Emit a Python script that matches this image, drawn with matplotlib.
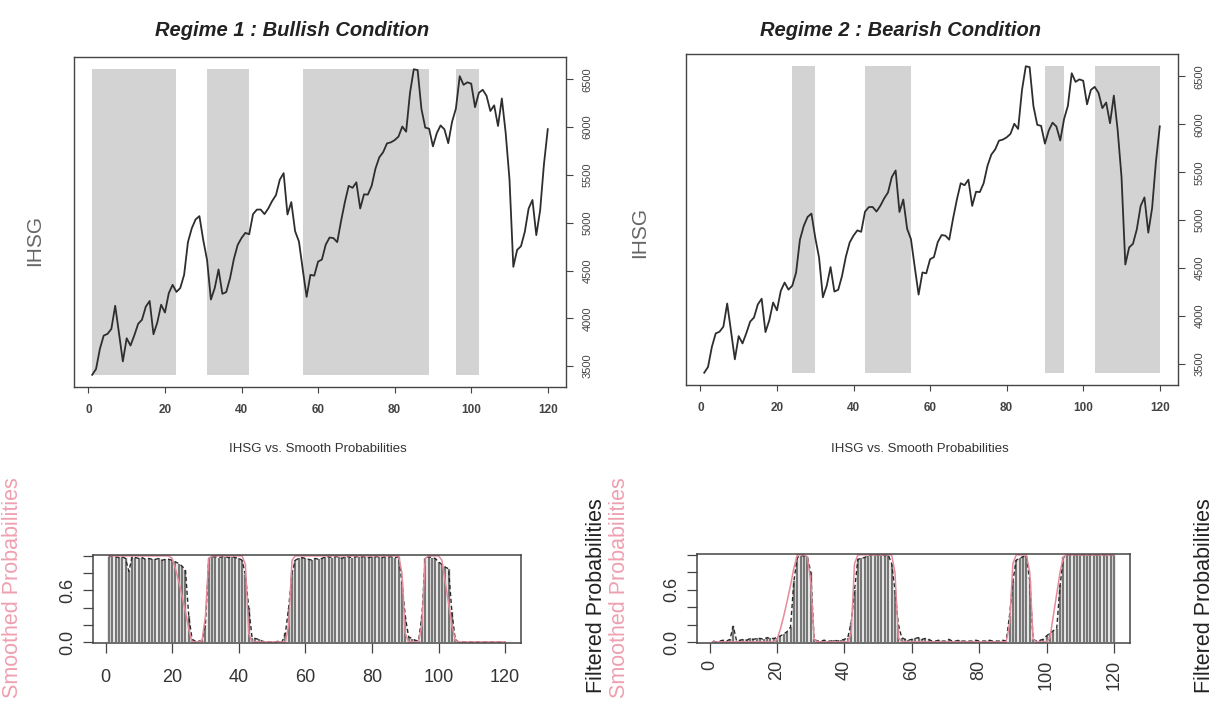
import numpy as np
import matplotlib
matplotlib.use("Agg")
import matplotlib.pyplot as plt

plt.rcParams['font.family'] = ['Liberation Sans', 'DejaVu Sans']

# ---------------- data ----------------
ihsg = [3409, 3470, 3679, 3819, 3837, 3889, 4131, 3842, 3549, 3791, 3715, 3822,
        3942, 3985, 4122, 4181, 3833, 3956, 4142, 4060, 4263, 4350, 4276, 4317,
        4454, 4796, 4941, 5034, 5069, 4819, 4610, 4196, 4316, 4511, 4256, 4274,
        4419, 4620, 4768, 4840, 4894, 4879, 5089, 5137, 5138, 5090, 5150, 5227,
        5289, 5450, 5519, 5086, 5216, 4911, 4803, 4510, 4224, 4455, 4446, 4593,
        4615, 4771, 4845, 4839, 4797, 5017, 5216, 5386, 5365, 5423, 5149, 5297,
        5294, 5387, 5568, 5685, 5738, 5830, 5841, 5864, 5901, 6006, 5952, 6356,
        6606, 6597, 6189, 5995, 5984, 5799, 5936, 6018, 5977, 5832, 6056, 6194,
        6533, 6443, 6469, 6455, 6209, 6359, 6391, 6328, 6169, 6228, 6012, 6300,
        5940, 5453, 4538, 4716, 4754, 4905, 5149, 5238, 4870, 5128, 5612, 5979]

filt_r1 = [0.99, 1.00, 0.99, 0.98, 0.99, 0.97, 0.82, 0.99, 0.98, 0.97, 0.98, 0.96,
           0.97, 0.96, 0.96, 0.97, 0.95, 0.96, 0.96, 0.95, 0.93, 0.91, 0.88, 0.83,
           0.30, 0.03, 0.01, 0.01, 0.02, 0.20, 0.97, 0.99, 0.99, 0.98, 0.99, 0.99,
           0.98, 0.99, 0.98, 0.97, 0.95, 0.78, 0.40, 0.05, 0.04, 0.03, 0.01, 0.00,
           0.00, 0.00, 0.00, 0.01, 0.00, 0.10, 0.40, 0.80, 0.95, 0.97, 0.98, 0.97,
           0.96, 0.95, 0.97, 0.96, 0.97, 0.99, 0.99, 0.98, 0.99, 0.99, 0.97, 0.99,
           0.99, 0.98, 0.99, 0.99, 0.99, 0.99, 0.98, 0.99, 0.99, 0.99, 0.98, 0.99,
           0.99, 0.99, 0.98, 0.99, 0.70, 0.30, 0.06, 0.04, 0.02, 0.01, 0.30, 0.97,
           0.99, 0.98, 0.97, 0.93, 0.90, 0.87, 0.85, 0.35, 0.03, 0.00, 0.00, 0.00,
           0.00, 0.00, 0.00, 0.00, 0.00, 0.00, 0.00, 0.00, 0.00, 0.00, 0.00, 0.00]

filt_r2 = [0.01, 0.00, 0.01, 0.02, 0.01, 0.03, 0.18, 0.01, 0.02, 0.03, 0.02, 0.04,
           0.03, 0.04, 0.04, 0.03, 0.05, 0.04, 0.04, 0.05, 0.07, 0.09, 0.12, 0.17,
           0.70, 0.97, 0.99, 0.99, 0.98, 0.80, 0.03, 0.01, 0.01, 0.02, 0.01, 0.01,
           0.02, 0.01, 0.02, 0.03, 0.05, 0.22, 0.60, 0.95, 0.96, 0.97, 0.99, 1.00,
           1.00, 1.00, 1.00, 0.99, 1.00, 0.90, 0.60, 0.20, 0.05, 0.03, 0.02, 0.03,
           0.04, 0.05, 0.03, 0.04, 0.03, 0.01, 0.01, 0.02, 0.01, 0.01, 0.03, 0.01,
           0.01, 0.02, 0.01, 0.01, 0.01, 0.01, 0.02, 0.01, 0.01, 0.01, 0.02, 0.01,
           0.01, 0.01, 0.02, 0.01, 0.30, 0.70, 0.94, 0.96, 0.98, 0.99, 0.70, 0.03,
           0.01, 0.02, 0.03, 0.07, 0.10, 0.13, 0.15, 0.65, 0.97, 1.00, 1.00, 1.00,
           1.00, 1.00, 1.00, 1.00, 1.00, 1.00, 1.00, 1.00, 1.00, 1.00, 1.00, 1.00]

smooth_r1 = [1.00, 1.00, 1.00, 1.00, 1.00, 1.00, 1.00, 1.00, 1.00, 1.00, 1.00, 1.00,
             1.00, 1.00, 1.00, 1.00, 1.00, 1.00, 1.00, 0.97, 0.85, 0.70, 0.53, 0.35,
             0.15, 0.00, 0.00, 0.00, 0.02, 0.30, 0.97, 1.00, 1.00, 1.00, 1.00, 1.00,
             1.00, 1.00, 1.00, 1.00, 1.00, 0.90, 0.10, 0.00, 0.00, 0.00, 0.00, 0.00,
             0.00, 0.00, 0.00, 0.00, 0.00, 0.00, 0.20, 0.95, 1.00, 1.00, 1.00, 1.00,
             1.00, 1.00, 1.00, 1.00, 1.00, 1.00, 1.00, 1.00, 1.00, 1.00, 1.00, 1.00,
             1.00, 1.00, 1.00, 1.00, 1.00, 1.00, 1.00, 1.00, 1.00, 1.00, 1.00, 1.00,
             1.00, 1.00, 1.00, 1.00, 0.80, 0.10, 0.00, 0.00, 0.00, 0.00, 0.20, 0.97,
             1.00, 1.00, 1.00, 1.00, 0.95, 0.70, 0.45, 0.20, 0.02, 0.00, 0.00, 0.00,
             0.00, 0.00, 0.00, 0.00, 0.00, 0.00, 0.00, 0.00, 0.00, 0.00, 0.00, 0.00]

smooth_r2 = [0.00, 0.00, 0.00, 0.00, 0.00, 0.00, 0.00, 0.00, 0.00, 0.00, 0.00, 0.00,
             0.00, 0.00, 0.00, 0.00, 0.00, 0.00, 0.00, 0.03, 0.15, 0.30, 0.47, 0.65,
             0.85, 1.00, 1.00, 1.00, 0.98, 0.70, 0.03, 0.00, 0.00, 0.00, 0.00, 0.00,
             0.00, 0.00, 0.00, 0.00, 0.00, 0.10, 0.90, 1.00, 1.00, 1.00, 1.00, 1.00,
             1.00, 1.00, 1.00, 1.00, 1.00, 1.00, 0.80, 0.05, 0.00, 0.00, 0.00, 0.00,
             0.00, 0.00, 0.00, 0.00, 0.00, 0.00, 0.00, 0.00, 0.00, 0.00, 0.00, 0.00,
             0.00, 0.00, 0.00, 0.00, 0.00, 0.00, 0.00, 0.00, 0.00, 0.00, 0.00, 0.00,
             0.00, 0.00, 0.00, 0.00, 0.20, 0.90, 1.00, 1.00, 1.00, 1.00, 0.80, 0.03,
             0.00, 0.00, 0.00, 0.00, 0.05, 0.30, 0.55, 0.80, 0.98, 1.00, 1.00, 1.00,
             1.00, 1.00, 1.00, 1.00, 1.00, 1.00, 1.00, 1.00, 1.00, 1.00, 1.00, 1.00]

titles = ["Regime 1 : Bullish Condition", "Regime 2 : Bearish Condition"]
x_ticks = [0, 20, 40, 60, 80, 100, 120]
ihsg_ticks = [3500, 4000, 4500, 5000, 5500, 6000, 6500]
prob_ticks = [0.0, 0.2, 0.4, 0.6, 0.8, 1.0]
prob_tick_labels = ["0.0", "", "", "0.6", "", ""]

# ---------------- figure ----------------
W, H, DPI = 1216, 702, 100
fig = plt.figure(figsize=(W / DPI, H / DPI), dpi=DPI)
fig.patch.set_facecolor("white")


def axes_px(l, t, r, b):
    return fig.add_axes([l / W, 1 - b / H, (r - l) / W, (b - t) / H])


def ftext(x, y, s, **kw):
    kw.setdefault("ha", "center")
    kw.setdefault("va", "center")
    return fig.text(x / W, 1 - y / H, s, **kw)


idx = np.arange(1, len(ihsg) + 1)
n = len(ihsg)
xpad = 0.04 * (n - 1)
xlim = (1 - xpad, n + xpad)
lo, hi = min(ihsg), max(ihsg)
ypad = 0.04 * (hi - lo)

LINE_C = "#2e2e2e"
PINK = "#E58A9C"
PINK_TXT = "#EEA0B0"


def top_panel(box, smooth, title, title_x, label_x, xlabel_x, ylabel_y):
    ax = axes_px(*box)
    s = np.array(smooth)
    ax.fill_between(idx, lo, hi, where=s > 0.5, color="#D3D3D3", lw=0, interpolate=False)
    ax.plot(idx, ihsg, color=LINE_C, lw=1.3)
    ax.set_xlim(*xlim)
    ax.set_ylim(lo - ypad, hi + ypad)
    ax.set_xticks(x_ticks)
    ax.set_xticklabels([str(v) for v in x_ticks], fontsize=8.5, fontweight="bold", color="#444444")
    ax.yaxis.tick_right()
    ax.set_yticks(ihsg_ticks)
    ax.set_yticklabels([str(v) for v in ihsg_ticks], fontsize=8, color="#555555",
                       rotation=90, va="center")
    ax.tick_params(axis="both", direction="out", length=4, width=0.8, colors="#444444")
    ax.tick_params(axis="x", pad=8)
    ax.tick_params(axis="y", pad=7, length=5)
    for sp in ax.spines.values():
        sp.set_color("#444444")
        sp.set_linewidth(1.0)
    ftext(title_x, 31, title, fontsize=14.5, fontweight="bold", fontstyle="italic", color="#222222")
    ftext(label_x, ylabel_y, "IHSG", rotation=90, fontsize=15, color="#666666")
    ftext(xlabel_x, 449, "IHSG vs. Smooth Probabilities", fontsize=9.5, color="#333333")
    return ax


def bottom_panel(box, filt, smooth, rotate_x, pink_x, black_x):
    ax = axes_px(*box)
    ax.vlines(idx, 0, filt, color="#777777", lw=1.7)
    ax.plot(idx, filt, color="#2a2a2a", lw=1.0, ls=(0, (3, 2)))
    ax.plot(idx, smooth, color=PINK, lw=1.1)
    ax.set_xlim(*xlim)
    ax.set_ylim(-0.012, 1.01)
    ax.set_xticks(x_ticks)
    ax.set_xticklabels([str(v) for v in x_ticks], fontsize=13, color="#333333",
                       rotation=90 if rotate_x else 0)
    ax.set_yticks(prob_ticks)
    ax.set_yticklabels(prob_tick_labels, fontsize=13, color="#333333", rotation=90, va="center")
    ax.tick_params(axis="both", direction="out", length=7, width=0.9, colors="#444444")
    ax.tick_params(axis="x", pad=5 if rotate_x else 12, labelcolor="#333333")
    ax.tick_params(axis="y", pad=5, labelcolor="#333333")
    for sp in ax.spines.values():
        sp.set_color("#444444")
        sp.set_linewidth(1.1)
    ftext(pink_x, 588, "Smoothed Probabilities", rotation=90, fontsize=15.5, color=PINK_TXT)
    ftext(black_x, 596, "Filtered Probabilities", rotation=90, fontsize=15.5, color="#222222")
    return ax


top_panel((74, 57, 566, 387), smooth_r1, titles[0], 292, 35, 318, 240)
top_panel((686, 54, 1178, 385), smooth_r2, titles[1], 900, 640, 920, 232)

bottom_panel((93, 555, 521, 643), filt_r1, smooth_r1, False, 13, 597)
bottom_panel((697, 554, 1130, 643), filt_r2, smooth_r2, True, 620, 1205)

fig.savefig("out.png", dpi=DPI, facecolor="white")
